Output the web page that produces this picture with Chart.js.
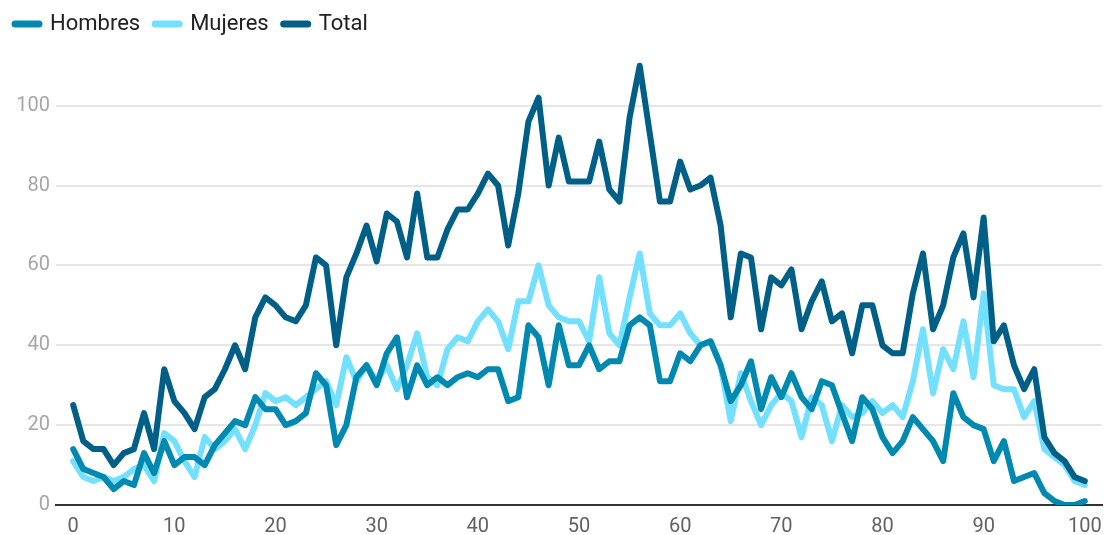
<!DOCTYPE html>
<html>
<head>
<meta charset="utf-8">
<script src="https://cdn.jsdelivr.net/npm/chart.js@4"></script>
<style>
  html, body { margin: 0; padding: 0; background: #fff; }
</style>
</head>
<body>
<canvas id="chart" width="1104" height="535"></canvas>
<script>
// edades 0..100
const edades = Array.from({ length: 101 }, (_, i) => i);

const hombres = [
    14, 9, 8, 7, 4, 6, 5, 13, 8, 16,
    10, 12, 12, 10, 15, 18, 21, 20, 27, 24,
    24, 20, 21, 23, 33, 30, 15, 20, 32, 35,
    30, 38, 42, 27, 35, 30, 32, 30, 32, 33,
    32, 34, 34, 26, 27, 45, 42, 30, 45, 35,
    35, 40, 34, 36, 36, 45, 47, 45, 31, 31,
    38, 36, 40, 41, 35, 26, 30, 36, 24, 32,
    27, 33, 27, 24, 31, 30, 23, 16, 27, 24,
    17, 13, 16, 22, 19, 16, 11, 28, 22, 20,
    19, 11, 16, 6, 7, 8, 3, 1, 0, 0,
    1
];

const mujeres = [
    11, 7, 6, 7, 6, 7, 9, 10, 6, 18,
    16, 11, 7, 17, 14, 16, 19, 14, 20, 28,
    26, 27, 25, 27, 29, 31, 25, 37, 31, 35,
    31, 35, 29, 35, 43, 32, 30, 39, 42, 41,
    46, 49, 46, 39, 51, 51, 60, 50, 47, 46,
    46, 41, 57, 43, 40, 52, 63, 48, 45, 45,
    48, 43, 40, 41, 35, 21, 33, 26, 20, 25,
    28, 26, 17, 27, 25, 16, 25, 22, 23, 26,
    23, 25, 22, 31, 44, 28, 39, 34, 46, 32,
    53, 30, 29, 29, 22, 26, 14, 12, 10, 6,
    5
];

const total = [
    25, 16, 14, 14, 10, 13, 14, 23, 14, 34,
    26, 23, 19, 27, 29, 34, 40, 34, 47, 52,
    50, 47, 46, 50, 62, 60, 40, 57, 63, 70,
    61, 73, 71, 62, 78, 62, 62, 69, 74, 74,
    78, 83, 80, 65, 78, 96, 102, 80, 92, 81,
    81, 81, 91, 79, 76, 97, 110, 93, 76, 76,
    86, 79, 80, 82, 70, 47, 63, 62, 44, 57,
    55, 59, 44, 51, 56, 46, 48, 38, 50, 50,
    40, 38, 38, 53, 63, 44, 50, 62, 68, 52,
    72, 41, 45, 35, 29, 34, 17, 13, 11, 7,
    6
];

const yTicks = [0, 20, 40, 60, 80, 100];
const xTicks = [0, 10, 20, 30, 40, 50, 60, 70, 80, 90, 100];

function serie(label, values, color, order) {
    return {
        label: label,
        data: values.map((v, i) => ({ x: edades[i], y: v })),
        borderColor: color,
        backgroundColor: color,
        borderWidth: 6,
        borderJoinStyle: 'round',
        borderCapStyle: 'round',
        pointRadius: 0,
        tension: 0,
        fill: false,
        order: order
    };
}

const ctx = document.getElementById('chart').getContext('2d');
new Chart(ctx, {
    type: 'line',
    data: {
        datasets: [
            serie('Hombres', hombres, '#0089b0', 1),
            serie('Mujeres', mujeres, '#73e0ff', 2),
            serie('Total', total, '#005f87', 0)
        ]
    },
    options: {
        responsive: false,
        animation: false,
        layout: { padding: { left: 0, right: 2, top: -2, bottom: -6 } },
        plugins: {
            legend: {
                position: 'top',
                align: 'start',
                labels: {
                    usePointStyle: true,
                    pointStyle: 'line',
                    pointStyleWidth: 24,
                    padding: 15,
                    color: '#212121',
                    font: { family: 'Roboto', size: 22 },
                    sort: (a, b) => a.datasetIndex - b.datasetIndex,
                    generateLabels: chart => {
                        const items = Chart.defaults.plugins.legend.labels.generateLabels(chart);
                        items.forEach(it => { it.lineWidth = 7; it.lineCap = 'round'; });
                        return items;
                    }
                }
            },
            tooltip: { enabled: false }
        },
        scales: {
            x: {
                type: 'linear',
                min: -1.7,
                max: 101.7,
                afterBuildTicks: axis => { axis.ticks = xTicks.map(v => ({ value: v })); },
                grid: { display: false },
                border: { display: true, color: '#333333', width: 2 },
                ticks: {
                    color: '#616161',
                    font: { family: 'Roboto', size: 20 },
                    padding: 2,
                    maxRotation: 0
                }
            },
            y: {
                min: 0,
                max: 115.2,
                afterBuildTicks: axis => { axis.ticks = yTicks.map(v => ({ value: v })); },
                afterFit: axis => { axis.width = 56; },
                grid: { color: '#e6e6e6', lineWidth: 2, drawTicks: false },
                border: { display: false },
                ticks: {
                    color: '#a6a6a6',
                    font: { family: 'Roboto', size: 20 },
                    padding: 6
                }
            }
        }
    }
});
</script>
</body>
</html>
